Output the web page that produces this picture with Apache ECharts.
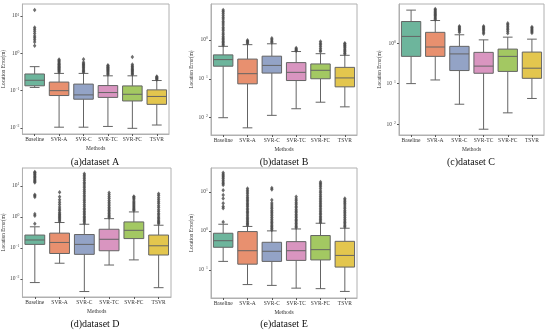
<!DOCTYPE html>
<html>
<head>
<meta charset="utf-8">
<script src="https://cdn.jsdelivr.net/npm/echarts@6/dist/echarts.min.js"></script>
<style>
html,body{margin:0;padding:0;background:#fff;}
#chart{width:550px;height:331px;}
</style>
</head>
<body>
<div id="chart"></div>
<script>
const categories = ['Baseline','SVR-A','SVR-C','SVR-TC','SVR-FC','TSVR'];
const captions = ['(a)dataset A','(b)dataset B','(c)dataset C','(d)dataset D','(e)dataset E'];
const yTickValues = [0.01, 0.1, 1, 10];

// box stats per method: [lower whisker, Q1, median, Q3, upper whisker]
const boxA = [[0.122,0.135,0.19,0.28,0.44],[0.0105,0.074,0.1,0.17,0.29],[0.0105,0.059,0.077,0.15,0.29],[0.011,0.066,0.089,0.137,0.25],[0.0098,0.053,0.08,0.134,0.25],[0.012,0.043,0.07,0.105,0.187]];
const boxB = [[0.01,0.21,0.31,0.41,0.68],[0.0055,0.074,0.135,0.32,0.75],[0.0115,0.14,0.22,0.38,0.79],[0.017,0.09,0.146,0.26,0.5],[0.025,0.1,0.165,0.24,0.44],[0.019,0.062,0.105,0.196,0.4]];
const boxC = [[0.1,0.47,1.46,3.4,6.5],[0.123,0.47,0.8,1.84,3.6],[0.031,0.21,0.54,0.83,1.6],[0.0075,0.18,0.27,0.59,1.2],[0.019,0.2,0.47,0.71,1.4],[0.043,0.135,0.24,0.6,1.25]];
const boxD = [[0.0076,0.13,0.18,0.26,0.48],[0.032,0.066,0.15,0.3,0.66],[0.0039,0.062,0.13,0.27,0.58],[0.028,0.081,0.19,0.4,0.88],[0.041,0.2,0.37,0.69,1.45],[0.0052,0.059,0.117,0.26,0.54]];
const boxE = [[0.165,0.38,0.56,0.87,1.48],[0.042,0.14,0.31,0.96,1.3],[0.04,0.165,0.3,0.51,1.0],[0.034,0.175,0.31,0.53,1.12],[0.033,0.18,0.33,0.76,1.57],[0.028,0.118,0.235,0.54,1.17]];

// outliers per method
const outA = [
  [14.5,4.9,4.4,3.9,3.4,2.9,2.6,2.3,2.0,1.6],
  [0.31,0.33,0.35,0.37,0.39,0.41,0.43,0.45,0.48,0.5,0.53,0.56,0.6,0.64,0.68],
  [0.31,0.33,0.35,0.38,0.41,0.44,0.47,0.5,0.53,0.58,0.7],
  [0.27,0.29,0.31,0.33,0.35,0.37,0.39,0.41,0.43,0.46,0.48],
  [0.27,0.29,0.31,0.33,0.35,0.37,0.4,0.43,0.46,0.5,0.8],
  [0.2,0.21,0.22,0.23,0.24]
];
const outB = [
  [0.72,0.78,0.85,0.92,1.0,1.1,1.2,1.35,1.5,1.7,1.9,2.1,2.4,2.7,3.0,3.4,3.8,4.3,4.8,5.3,5.8],
  [0.8,0.86,0.92,0.97],
  [0.85,0.92,1.0,1.1],
  [0.52,0.55,0.58,0.62],
  [0.5,0.54,0.6,0.67,0.75,0.82,0.9],
  [0.43,0.46,0.5,0.54,0.58,0.63,0.68,0.73,0.78,0.82]
];
const outC = [
  [],
  [3.8,4.1,4.4,4.7,5.0,5.3,5.7,6.1,6.5,6.9],
  [1.85,2.0,2.15,2.3,2.45,2.6],
  [1.7,1.85,2.0,2.15,2.3,2.45,2.6],
  [1.75,1.95,2.15,2.35,2.6,2.85,3.1],
  [1.77,1.9,2.05,2.2,2.35,2.5]
];
const outD = [
  [0.6,1.1,1.25,4.4,4.8,5.2,13,14,15,16.5,18,19.5,21,23,25,27,28],
  [0.72,0.8,0.88,0.96,1.05,1.15,1.25,1.4,1.6,1.8,2.1,2.5,3.0,3.6,4.5,6.3],
  [0.63,0.7,0.78,0.86,0.95,1.05,1.2,1.35,1.5,1.7,1.9,2.2,2.5,2.9,3.3,3.8,4.4,5.0,5.8,6.6,7.6,8.7,10,11.5,13,15,17,19.5,22,25],
  [0.95,1.05,1.15,1.3,1.45,1.6,1.8,2.0,2.3,2.6,3.0,3.4,3.9,4.5,5.2,6.0],
  [1.6,1.75,1.9,2.1,2.3,2.55,2.8,3.1,3.5,3.9,4.3,4.6],
  [0.6,0.66,0.73,0.8,0.9,1.0,1.15,1.3,1.5,1.7,2.0,2.3,2.7,3.1,3.6,4.2,4.9,5.6]
];
const outE = [
  [1.7,3.8,4.2,5.1,6.8,8.3,11.1,15,16.5,18,20,22,24,26,28.5,31],
  [1.4,1.5,1.6,1.75,1.9,2.05,2.25,2.45,2.7,2.95,3.2,3.5,3.8,4.2,4.6,5.0,5.5,6.0,6.6,7.2,8.0,9.0,10,11,12.3],
  [1.05,1.15,1.25,1.35,1.5,1.65,1.8,2.0,2.2,2.45,2.7,3.0,3.3,3.7,4.1,4.6,5.2,6.2,11.5,12.5],
  [1.2,1.3,1.42,1.55,1.7,1.85,2.0,2.2,2.4,2.65,2.9,3.2,3.5,3.9,4.3,4.8,5.3,5.9,6.6,7.5],
  [1.65,1.8,1.95,2.15,2.35,2.6,2.85,3.1,3.45,3.8,4.2,4.6,5.1,5.6,6.2,6.9,7.6,8.5,9.5,10.5,12,13.5,15,16.5,18],
  [1.25,1.35,1.5,1.65,1.8,2.0,2.2,2.45,2.7,3.0,3.3,3.7,4.1,4.6,5.1,5.6,6.2,6.8]
];

// y-axis ranges per panel
const yMins = [0.0069, 0.0036, 0.0054, 0.0026, 0.019];
const yMaxs = [21, 8.3, 9.2, 38, 41];

const colors = ['#6db59c','#e8906f','#93a3c6','#d995c0','#a3c862','#e3c64e'];
const lineGray = '#646464';
const font = 'Liberation Serif';

const panels = [
  {box: boxA, out: outA, grid: {left: 22, top: 4, width: 147, height: 130}, cap: [95, 162]},
  {box: boxB, out: outB, grid: {left: 211, top: 4, width: 146, height: 131}, cap: [284, 162]},
  {box: boxC, out: outC, grid: {left: 399, top: 4, width: 145, height: 131}, cap: [471, 162]},
  {box: boxD, out: outD, grid: {left: 22, top: 168, width: 149, height: 129}, cap: [95, 324]},
  {box: boxE, out: outE, grid: {left: 211, top: 168, width: 146, height: 130}, cap: [284, 324]}
];

function fmtLog(v) {
  const e = Math.round(Math.log10(v));
  return '10{s|' + String(e).replace('-', '\u2212') + '}';
}

function renderBox(params, api) {
  const x = api.value(0);
  const lo = api.value(1), q1 = api.value(2), med = api.value(3), q3 = api.value(4), hi = api.value(5);
  const pLo = api.coord([x, lo]), pQ1 = api.coord([x, q1]), pMed = api.coord([x, med]);
  const pQ3 = api.coord([x, q3]), pHi = api.coord([x, hi]);
  const band = Math.abs(api.coord([1, med])[0] - api.coord([0, med])[0]);
  const w = band * 0.8;
  const cx = pMed[0];
  const st = {stroke: lineGray, lineWidth: 1};
  return {
    type: 'group',
    children: [
      {type: 'line', shape: {x1: cx, y1: pQ3[1], x2: cx, y2: pHi[1]}, style: st},
      {type: 'line', shape: {x1: cx, y1: pQ1[1], x2: cx, y2: pLo[1]}, style: st},
      {type: 'line', shape: {x1: cx - w/4, y1: pHi[1], x2: cx + w/4, y2: pHi[1]}, style: st},
      {type: 'line', shape: {x1: cx - w/4, y1: pLo[1], x2: cx + w/4, y2: pLo[1]}, style: st},
      {type: 'rect', shape: {x: cx - w/2, y: pQ3[1], width: w, height: pQ1[1] - pQ3[1]},
        style: {fill: colors[x], stroke: lineGray, lineWidth: 1}},
      {type: 'line', shape: {x1: cx - w/2, y1: pMed[1], x2: cx + w/2, y2: pMed[1]}, style: st}
    ]
  };
}

const grids = [], xAxes = [], yAxes = [], series = [], graphics = [];
panels.forEach((p, i) => {
  grids.push(Object.assign({show: true, borderColor: '#b0b0b0', borderWidth: 1, backgroundColor: '#fff'}, p.grid));
  xAxes.push({
    type: 'category', gridIndex: i, data: categories,
    name: 'Methods', nameLocation: 'middle', nameGap: 12,
    nameTextStyle: {fontFamily: font, fontSize: 5.5, color: '#333'},
    axisLine: {show: true, lineStyle: {color: '#b0b0b0'}},
    axisTick: {show: true, alignWithLabel: true, length: 2, lineStyle: {color: '#555'}},
    axisLabel: {interval: 0, fontFamily: font, fontSize: 5.5, color: '#333', margin: 3},
    splitLine: {show: false}
  });
  yAxes.push({
    type: 'log', logBase: 10, gridIndex: i, min: yMins[i], max: yMaxs[i],
    name: 'Location Error(m)', nameLocation: 'middle', nameGap: 14,
    nameTextStyle: {fontFamily: font, fontSize: 5.2, color: '#333'},
    axisLine: {show: true, lineStyle: {color: '#b0b0b0'}},
    axisTick: {show: true, length: 2, customValues: yTickValues, lineStyle: {color: '#555'}},
    axisLabel: {
      customValues: yTickValues, formatter: fmtLog, margin: 3,
      fontFamily: font, fontSize: 5.5, color: '#444',
      rich: {s: {fontFamily: font, fontSize: 3.8, color: '#444', verticalAlign: 'top', padding: [0, 0, 3, 0]}}
    },
    splitLine: {show: false}
  });
  series.push({
    type: 'custom', xAxisIndex: i, yAxisIndex: i,
    renderItem: renderBox,
    encode: {x: 0, y: [1, 2, 3, 4, 5]},
    data: p.box.map((b, k) => [k].concat(b)),
    z: 2
  });
  const pts = [];
  p.out.forEach((arr, k) => arr.forEach(v => pts.push([k, v])));
  series.push({
    type: 'scatter', xAxisIndex: i, yAxisIndex: i,
    symbol: 'diamond', symbolSize: [3.5, 4.5],
    itemStyle: {color: '#4a4a4a'},
    data: pts, z: 3
  });
  graphics.push({
    type: 'text', x: p.cap[0], y: p.cap[1],
    style: {text: captions[i], fontFamily: font, fontSize: 10, fill: '#111', align: 'center', verticalAlign: 'middle'}
  });
});

const chart = echarts.init(document.getElementById('chart'), null, {renderer: 'canvas'});
chart.setOption({
  animation: false,
  backgroundColor: '#fff',
  grid: grids, xAxis: xAxes, yAxis: yAxes, series: series, graphic: graphics
});
</script>
</body>
</html>
